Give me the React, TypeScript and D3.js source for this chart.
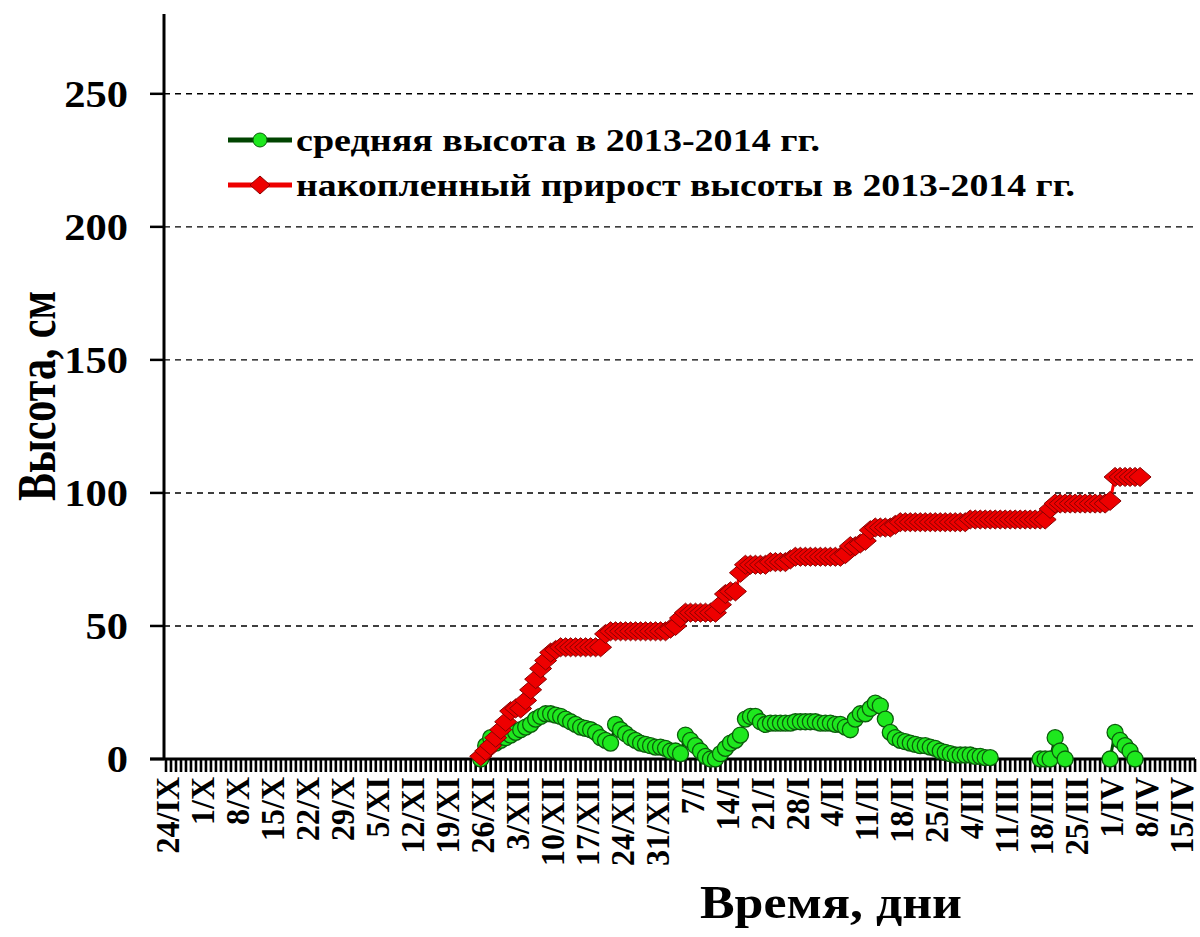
import React from "react";
import * as d3 from "d3";

// ---- DATA ----
const axisStart = new Date(Date.UTC(2013, 8, 24));
const axisEnd = new Date(Date.UTC(2014, 3, 18));
const seriesStart = new Date(Date.UTC(2013, 10, 26));

const tickLabels = [
  "24/IX", "1/X", "8/X", "15/X", "22/X", "29/X", "5/XI", "12/XI", "19/XI", "26/XI",
  "3/XII", "10/XII", "17/XII", "24/XII", "31/XII", "7/I", "14/I", "21/I", "28/I", "4/II",
  "11/II", "18/II", "25/II", "4/III", "11/III", "18/III", "25/III", "1/IV", "8/IV", "15/IV",
];

const yTicks = [0, 50, 100, 150, 200, 250];

// средняя высота (daily from 26/XI/2013)
const meanHeight: (number | null)[] = [
  0, 5, 8, 6, 7, 8, 9, 10, 11, 12,
  13, 15, 16, 17, 17, 16.5, 16, 15, 14, 13,
  12, 11.5, 11, 10, 8, 7, 6, 13, 11, 9.5,
  8, 7, 6, 5.5, 5, 4.5, 4.5, 4, 3, 3,
  2, 9, 7, 5, 3, 1, 0, 0, 2, 4,
  6, 7, 9, 15, 16, 16, 14, 13, 13.5, 13.5,
  13.5, 13.5, 13.5, 14, 14, 14, 14, 14, 13.5, 13.5,
  13.5, 13, 13, 12, 11, 15, 17, 17, 19, 21,
  20, 15, 10, 8, 7, 6.5, 6, 5.5, 5, 5,
  4.5, 4, 3, 2.5, 2, 1.5, 1.5, 1.5, 1.5, 1,
  1, 0.5, 0.5, null, null, null, null, null, null, null,
  null, null, 0, 0, 0, 8, 3, 0, null, null,
  null, null, null, null, null, null, 0, 10, 7, 5,
  3, 0,
];

// накопленный прирост высоты (daily from 26/XI/2013)
const cumGrowth: number[] = [
  1, 3, 5, 8, 11, 14, 18, 19, 19, 22,
  26, 30, 34, 37, 40, 41, 42, 42, 42, 42,
  42, 42, 42, 42, 42, 47, 48, 48, 48, 48,
  48, 48, 48, 48, 48, 48, 48, 48, 49, 50,
  53, 55, 55, 55, 55, 55, 55, 55, 58, 62,
  63, 63, 70, 73, 73, 73, 73, 73, 74, 74,
  74, 74, 75, 76, 76, 76, 76, 76, 76, 76,
  76, 76, 76, 77, 80, 80, 81, 82, 86, 87,
  87, 87, 87, 88, 89, 89, 89, 89, 89, 89,
  89, 89, 89, 89, 89, 89, 89, 89, 90, 90,
  90, 90, 90, 90, 90, 90, 90, 90, 90, 90,
  90, 90, 90, 90, 94, 96, 96, 96, 96, 96,
  96, 96, 96, 96, 96, 96, 97, 106, 106, 106,
  106, 106, 106,
];

const seriesNames = [
  "средняя высота в 2013-2014 гг.",
  "накопленный прирост высоты в 2013-2014 гг.",
];

// ---- CHART ----
const W = 1200;
const H = 937;
const left = 164;
const right = 1195;
const top = 14;
const bottom = 759;

const serif = "'Liberation Serif', 'Times New Roman', serif";

export default function App() {
  const x = d3.scaleUtc().domain([axisStart, axisEnd]).range([left + 2, right]);
  const y = d3.scaleLinear().domain([0, 280]).range([bottom, top]);

  const dayTicks = d3.utcDay.range(axisStart, d3.utcDay.offset(axisEnd, 1));
  const weekTicks = d3.utcTuesday.range(axisStart, d3.utcDay.offset(axisEnd, 1));

  const greenPts = meanHeight.map((v, i) => ({ d: d3.utcDay.offset(seriesStart, i), v }));
  const redPts = cumGrowth.map((v, i) => ({ d: d3.utcDay.offset(seriesStart, i), v }));

  const line = d3
    .line<{ d: Date; v: number | null }>()
    .defined((p) => p.v !== null)
    .x((p) => x(p.d))
    .y((p) => y(p.v as number));

  const diamond = (cx: number, cy: number, rx: number, ry: number) =>
    `M${cx},${cy - ry}L${cx + rx},${cy}L${cx},${cy + ry}L${cx - rx},${cy}Z`;

  return (
    <svg
      width={W}
      height={H}
      style={{ position: "absolute", left: 0, top: 0, background: "#fff" }}
      fontFamily={serif}
    >
      {/* gridlines */}
      {yTicks
        .filter((t) => t > 0)
        .map((t) => (
          <line
            key={"g" + t}
            x1={left}
            x2={right}
            y1={y(t)}
            y2={y(t)}
            stroke="#000"
            strokeWidth={1.4}
            strokeDasharray="6,5"
          />
        ))}

      {/* y axis */}
      <line x1={left} x2={left} y1={top} y2={bottom + 1} stroke="#000" strokeWidth={3} />
      {yTicks.map((t) => (
        <g key={"yt" + t}>
          <line x1={150} x2={left} y1={y(t)} y2={y(t)} stroke="#000" strokeWidth={2.5} />
          <g transform={`translate(128,${y(t)}) scale(1.12,1)`}>
            <text x={0} y={0} dy="0.35em" textAnchor="end" fontSize={38} fontWeight="bold">
              {t}
            </text>
          </g>
        </g>
      ))}

      {/* x axis */}
      <line x1={150} x2={right} y1={bottom} y2={bottom} stroke="#000" strokeWidth={3} />
      {dayTicks.map((d, i) => (
        <line
          key={"dt" + i}
          x1={x(d)}
          x2={x(d)}
          y1={bottom}
          y2={bottom + 13}
          stroke="#000"
          strokeWidth={2.6}
        />
      ))}
      {weekTicks.map((d, i) => (
        <text
          key={"wl" + i}
          transform={`translate(${x(d) + 1},${bottom + 18}) scale(1.08,1) rotate(-90)`}
          textAnchor="end"
          dy="0.35em"
          fontSize={32}
          fontWeight="bold"
        >
          {tickLabels[i]}
        </text>
      ))}

      {/* axis titles */}
      <text
        transform={`translate(36,396) scale(1.3,1) rotate(-90)`}
        textAnchor="middle"
        dy="0.35em"
        fontSize={42}
        fontWeight="bold"
      >
        Высота, см
      </text>
      <text
        x={831}
        y={918}
        textAnchor="middle"
        fontSize={46}
        fontWeight="bold"
        textLength={262}
        lengthAdjust="spacingAndGlyphs"
      >
        Время, дни
      </text>

      {/* green series */}
      <path d={line(greenPts) || ""} fill="none" stroke="#004d00" strokeWidth={3} />
      {greenPts
        .filter((p) => p.v !== null)
        .map((p, i) => (
          <circle
            key={"gc" + i}
            cx={x(p.d)}
            cy={y(p.v as number)}
            r={8}
            fill="#1ee81e"
            stroke="#0b5e0b"
            strokeWidth={1.3}
          />
        ))}

      {/* red series */}
      <path d={line(redPts) || ""} fill="none" stroke="#ff0000" strokeWidth={3} />
      {redPts.map((p, i) => (
        <path
          key={"rd" + i}
          d={diamond(x(p.d), y(p.v), 11, 9.5)}
          fill="#ee0000"
          stroke="#8a0000"
          strokeWidth={1}
        />
      ))}

      {/* legend */}
      <g>
        <line x1={228} x2={292} y1={140} y2={140} stroke="#004400" strokeWidth={5} />
        <circle cx={260} cy={140} r={7} fill="#1ee81e" stroke="#0b5e0b" strokeWidth={1} />
        <text
          x={296}
          y={140}
          dy="0.35em"
          fontSize={32}
          fontWeight="bold"
          textLength={524}
          lengthAdjust="spacingAndGlyphs"
        >
          {seriesNames[0]}
        </text>
        <line x1={228} x2={292} y1={185} y2={185} stroke="#ee0000" strokeWidth={5} />
        <path d={diamond(260, 185, 10, 9)} fill="#ee0000" stroke="#8a0000" strokeWidth={1} />
        <text
          x={296}
          y={185}
          dy="0.35em"
          fontSize={32}
          fontWeight="bold"
          textLength={779}
          lengthAdjust="spacingAndGlyphs"
        >
          {seriesNames[1]}
        </text>
      </g>
    </svg>
  );
}
